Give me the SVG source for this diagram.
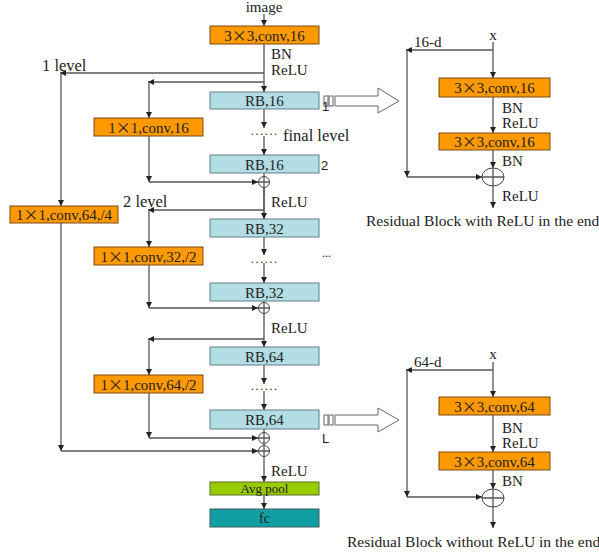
<svg xmlns="http://www.w3.org/2000/svg" width="599" height="560" viewBox="0 0 599 560">
<defs>
<marker id="ah" viewBox="0 0 10 10" refX="10" refY="5" markerWidth="6" markerHeight="6" markerUnits="userSpaceOnUse" orient="auto">
<path d="M0,0 L10,5 L0,10 z" fill="#222"/>
</marker>
<style>
.t{font-family:"Liberation Serif","Times New Roman",serif;fill:#222;font-size:15px}
.s{font-family:"Liberation Sans",Arial,sans-serif;fill:#222;font-size:13px}
.c{text-anchor:middle}
.lv{font-size:16.5px}
.cap{font-size:15.5px}
.x{font-family:"Noto Sans CJK SC",sans-serif}
.or{fill:#ff9900;stroke:#7a4a1a;stroke-width:1}
.bl{fill:#b3dde4;stroke:#5f7f85;stroke-width:1}
.gr{fill:#99cc00;stroke:#5a6e2a;stroke-width:1}
.tl{fill:#119ea3;stroke:#3a5f60;stroke-width:1}
.ln{fill:none;stroke:#555;stroke-width:1.3}
.ar{fill:none;stroke:#555;stroke-width:1.3;marker-end:url(#ah)}
.sum{fill:#fff;stroke:#444;stroke-width:1}
.ho{fill:#fff;stroke:#666;stroke-width:1}
</style>
</defs>
<rect width="599" height="560" fill="#fff"/>

<g id="connectors">
<path class="ar" d="M264,14 V26"/>
<path class="ar" d="M264,44 V92"/>
<path class="ar" d="M264,73 H60"/>
<path class="ar" d="M264,82 H148"/>
<path class="ar" d="M61,73 V206"/>
<path class="ar" d="M149,82 V118"/>
<path class="ar" d="M264,109 V128"/>
<path class="ar" d="M264,136 V155"/>
<path class="ln" d="M264,173 V219"/>
<path class="ar" d="M264,177 V219"/>
<path class="ar" d="M149,136 V182"/>
<path class="ar" d="M149,182 H258"/>
<path class="ar" d="M264,210 H148"/>
<path class="ar" d="M149,210 V247"/>
<path class="ar" d="M264,237 V255"/>
<path class="ar" d="M264,263 V283"/>
<path class="ar" d="M149,265 V308"/>
<path class="ar" d="M149,308 H258"/>
<path class="ar" d="M264,301 V347"/>
<path class="ar" d="M264,339 H148"/>
<path class="ar" d="M149,339 V375"/>
<path class="ar" d="M264,365 V384"/>
<path class="ar" d="M264,391 V410"/>
<path class="ar" d="M149,393 V438"/>
<path class="ar" d="M149,438 H258"/>
<path class="ar" d="M61,223 V451"/>
<path class="ar" d="M61,451 H258"/>
<path class="ln" d="M264,429 V456"/>
<path class="ar" d="M264,456 V482"/>
<path class="ar" d="M264,495 V509"/>

<path class="ar" d="M493,42 V78"/>
<path class="ar" d="M493,50 H406"/>
<path class="ar" d="M407,50 V177"/>
<path class="ar" d="M407,177 H482"/>
<path class="ar" d="M493,97 V133"/>
<path class="ar" d="M493,150 V168"/>
<path class="ar" d="M493,186 V208"/>

<path class="ar" d="M493,362 V397"/>
<path class="ar" d="M493,370 H406"/>
<path class="ar" d="M407,370 V497"/>
<path class="ar" d="M407,497 H482"/>
<path class="ar" d="M493,415 V452"/>
<path class="ar" d="M493,470 V489"/>
<path class="ar" d="M493,507 V528"/>

<rect class="ho" x="324" y="96" width="4" height="10"/>
<rect class="ho" x="329" y="96" width="4" height="10"/>
<path class="ho" d="M335,96 H378 V88 L399,101 L378,113 V106 H335 z"/>
<rect class="ho" x="324" y="415" width="4" height="10"/>
<rect class="ho" x="329" y="415" width="4" height="10"/>
<path class="ho" d="M335,415 H378 V408 L399,420 L378,432 V425 H335 z"/>
</g>

<g id="sums">
<g id="sum1"><circle class="sum" cx="264" cy="182" r="5.5"/><path class="ln" d="M258.5,182 H269.5 M264,176.5 V187.5"/></g>
<g id="sum2"><circle class="sum" cx="264" cy="308" r="5.5"/><path class="ln" d="M258.5,308 H269.5 M264,302.5 V313.5"/></g>
<g id="sum3"><circle class="sum" cx="264" cy="438" r="5.5"/><path class="ln" d="M258.5,438 H269.5 M264,432.5 V443.5"/></g>
<g id="sum4"><circle class="sum" cx="264" cy="451" r="5.5"/><path class="ln" d="M258.5,451 H269.5 M264,445.5 V456.5"/></g>
<g id="sumR1"><ellipse class="sum" cx="493" cy="177" rx="11" ry="9"/><path class="ln" d="M482,177 H504 M493,168 V186"/></g>
<g id="sumR2"><ellipse class="sum" cx="493" cy="498" rx="11" ry="9"/><path class="ln" d="M482,498 H504 M493,489 V507"/></g>
</g>

<g id="conv0"><rect class="or" x="210" y="26" width="109" height="18"/><text class="t c" x="264.5" y="40.5">3<tspan class="x">×</tspan>3,conv,16</text></g>
<g id="rb16a"><rect class="bl" x="210" y="92" width="109" height="17"/><text class="t c" x="264.5" y="106">RB,16</text></g>
<g id="rb16b"><rect class="bl" x="210" y="155" width="109" height="18"/><text class="t c" x="264.5" y="169.5">RB,16</text></g>
<g id="rb32a"><rect class="bl" x="210" y="219" width="109" height="18"/><text class="t c" x="264.5" y="233.5">RB,32</text></g>
<g id="rb32b"><rect class="bl" x="210" y="283" width="109" height="18"/><text class="t c" x="264.5" y="297.5">RB,32</text></g>
<g id="rb64a"><rect class="bl" x="210" y="347" width="109" height="18"/><text class="t c" x="264.5" y="361.5">RB,64</text></g>
<g id="rb64b"><rect class="bl" x="210" y="410" width="109" height="19"/><text class="t c" x="264.5" y="425">RB,64</text></g>
<g id="avgpool"><rect class="gr" x="210" y="482" width="109" height="13"/><text class="t c" x="264.5" y="493" style="font-size:13px">Avg pool</text></g>
<g id="fc"><rect class="tl" x="210" y="509" width="109" height="18"/><text class="t c" x="264.5" y="523" style="font-size:14px">fc</text></g>
<g id="conv16"><rect class="or" x="94" y="118" width="109" height="18"/><text class="t c" x="148.5" y="132.5">1<tspan class="x">×</tspan>1,conv,16</text></g>
<g id="conv32"><rect class="or" x="94" y="247" width="109" height="18"/><text class="t c" x="148.5" y="261.5">1<tspan class="x">×</tspan>1,conv,32,/2</text></g>
<g id="conv64h"><rect class="or" x="94" y="375" width="109" height="18"/><text class="t c" x="148.5" y="389.5">1<tspan class="x">×</tspan>1,conv,64,/2</text></g>
<g id="conv64q"><rect class="or" x="10" y="206" width="108" height="17"/><text class="t c" x="64" y="220">1<tspan class="x">×</tspan>1,conv,64,/4</text></g>

<g id="rconv1"><rect class="or" x="439" y="78" width="111" height="19"/><text class="t c" x="494.5" y="93">3<tspan class="x">×</tspan>3,conv,16</text></g>
<g id="rconv2"><rect class="or" x="439" y="133" width="111" height="17"/><text class="t c" x="494.5" y="147">3<tspan class="x">×</tspan>3,conv,16</text></g>
<g id="rconv3"><rect class="or" x="439" y="397" width="111" height="18"/><text class="t c" x="494.5" y="411.5">3<tspan class="x">×</tspan>3,conv,64</text></g>
<g id="rconv4"><rect class="or" x="439" y="452" width="111" height="18"/><text class="t c" x="494.5" y="466.5">3<tspan class="x">×</tspan>3,conv,64</text></g>

<g id="labels">
<text class="t c" x="264" y="12">image</text>
<text class="t" x="271" y="59">BN</text>
<text class="t" x="271" y="75">ReLU</text>
<text class="t lv" x="42" y="71">1 level</text>
<text class="s" x="322" y="111">1</text>
<text class="t" x="251" y="135" style="font-size:12px;letter-spacing:1.6px">......</text>
<text class="t lv" x="283" y="141">final level</text>
<text class="s" x="321" y="170">2</text>
<text class="t lv" x="123" y="207">2 level</text>
<text class="t" x="271" y="207">ReLU</text>
<text class="t" x="322" y="257" style="font-size:12px">...</text>
<text class="t" x="251" y="263" style="font-size:12px;letter-spacing:1.6px">......</text>
<text class="t" x="271" y="333">ReLU</text>
<text class="t" x="251" y="390" style="font-size:12px;letter-spacing:1.6px">......</text>
<text class="s" x="322" y="443">L</text>
<text class="t" x="271" y="476">ReLU</text>

<text class="t c" x="493" y="40">x</text>
<text class="t" x="414" y="47">16-d</text>
<text class="t" x="502" y="113">BN</text>
<text class="t" x="502" y="128">ReLU</text>
<text class="t" x="502" y="166">BN</text>
<text class="t" x="502" y="201">ReLU</text>
<text class="t cap" x="366" y="226">Residual Block with ReLU in the end</text>

<text class="t c" x="493" y="359">x</text>
<text class="t" x="414" y="367">64-d</text>
<text class="t" x="502" y="433">BN</text>
<text class="t" x="502" y="448">ReLU</text>
<text class="t" x="502" y="486">BN</text>
<text class="t cap" x="347" y="547">Residual Block without ReLU in the end</text>
</g>
</svg>
